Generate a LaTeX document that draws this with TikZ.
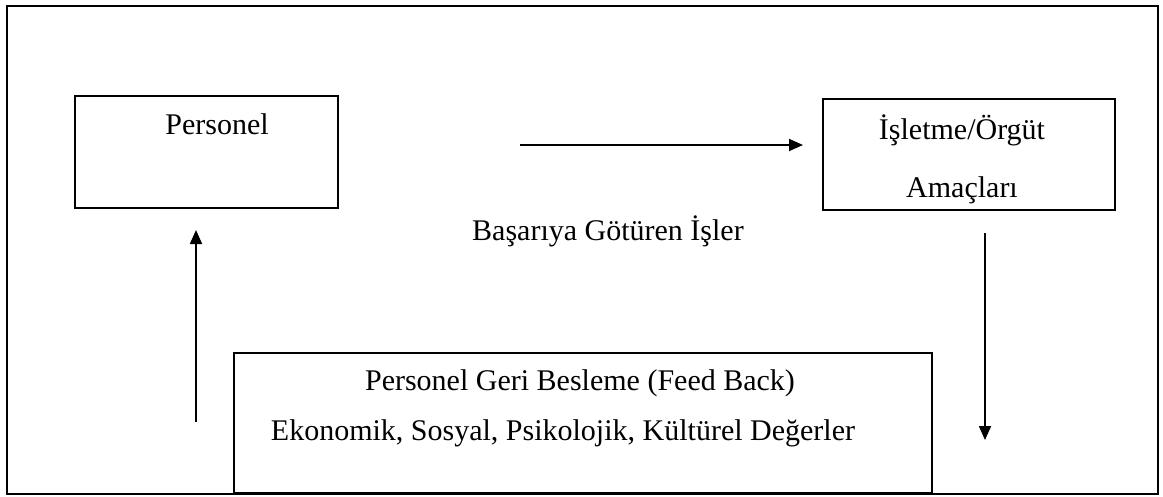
\documentclass[tikz,border=0pt]{standalone}
\usepackage{fontspec}
\setmainfont{Liberation Serif}
\usetikzlibrary{arrows.meta}

\begin{document}
\begin{tikzpicture}[x=1pt,y=-1pt,
    kutu/.style ={rectangle, draw, line width=2pt, inner sep = 0pt},
    yazi/.style ={font=\fontsize{30}{36}\selectfont, inner sep = 0pt},
    ok/.style ={line width=1.8pt, -{Triangle[length=14pt,width=12pt]}}]
   \useasboundingbox (0,0) rectangle (1163,496);
   \draw[line width=2pt] (7,6) rectangle (1158,494);
   \node[kutu, minimum width=263pt, minimum height=112pt] (P) at (206.5,152) {};
   \node[kutu, minimum width=292pt, minimum height=111pt] (I) at (969,154.5) {};
   \node[kutu, minimum width=698pt, minimum height=140pt] (G) at (583,423) {};
   \node[yazi] (p1) at (217,124) {Personel};
   \node[yazi] (i1) at (962,130) {İşletme/Örgüt};
   \node[yazi] (i2) at (962,190) {Amaçları};
   \node[yazi] (b1) at (608,231) {Başarıya Götüren İşler};
   \node[yazi] (g1) at (580,383) {Personel Geri Besleme (Feed Back)};
   \node[yazi] (g2) at (563,433) {Ekonomik, Sosyal, Psikolojik, Kültürel Değerler};
   \coordinate (h1) at (520,145);
   \coordinate (h2) at (803,145);
   \coordinate (u1) at (196,422);
   \coordinate (u2) at (196,230);
   \coordinate (d1) at (985,233);
   \coordinate (d2) at (985,440);
   \draw[ok] (h1) -- (h2);
   \draw[ok] (u1) -- (u2);
   \draw[ok] (d1) -- (d2);
 \end{tikzpicture}
\end{document}
